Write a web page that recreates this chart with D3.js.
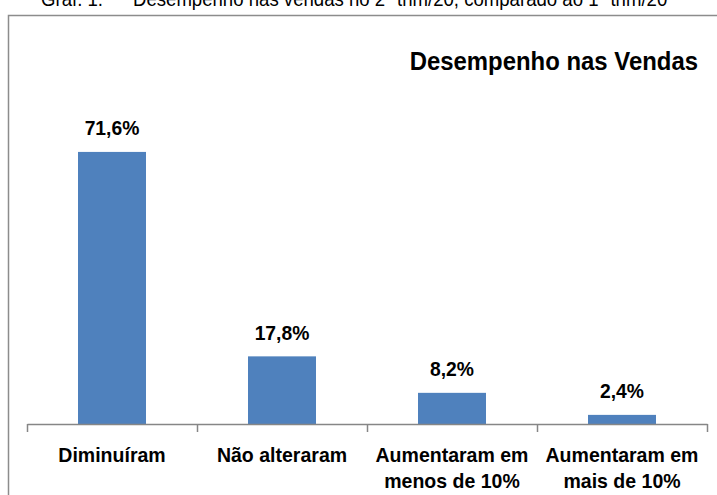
<!DOCTYPE html>
<html>
<head>
<meta charset="utf-8">
<script src="https://cdn.jsdelivr.net/npm/d3@7"></script>
<style>
  body { margin: 0; background: #fff; }
  text { font-family: "Liberation Sans", Arial, sans-serif; fill: #000; }
</style>
</head>
<body>
<div id="chart"></div>
<script>
(function() {
  var width = 717, height = 495;

  var categories = ["Diminuíram", "Não alteraram", "Aumentaram em menos de 10%", "Aumentaram em mais de 10%"];
  var categoryLines = [["Diminuíram"], ["Não alteraram"], ["Aumentaram em", "menos de 10%"], ["Aumentaram em", "mais de 10%"]];
  var values = [71.6, 17.8, 8.2, 2.4];

  var svg = d3.select("#chart")
    .append("svg")
    .attr("width", width)
    .attr("height", height);

  // the original uses a narrow font, so squeeze text horizontally
  function narrow(sel, x, y, k) {
    return sel.attr("transform", "translate(" + x + "," + y + ") scale(" + k + ",1)");
  }

  // caption (cut at top in the original)
  narrow(svg.append("text"), 41, 6, 0.93)
    .attr("font-size", 20)
    .text("Graf. 1.");
  narrow(svg.append("text"), 133, 6, 0.93)
    .attr("font-size", 20)
    .text("Desempenho nas vendas no 2º trim/20, comparado ao 1º trim/20");

  // frame
  svg.append("path")
    .attr("d", "M8.5,495V15.5H717")
    .attr("fill", "none")
    .attr("stroke", "#8c8c8c")
    .attr("stroke-width", 1.5);

  var baseline = 424;

  var xPositionScale = d3.scaleBand()
    .domain(categories)
    .range([27, 707])
    .paddingInner(0.6)
    .paddingOuter(0.3);

  var yPositionScale = d3.scaleLinear()
    .domain([0, 80])
    .range([baseline, baseline - 304]);

  narrow(svg.append("text"), 698, 70, 0.92)
    .attr("text-anchor", "end")
    .attr("font-size", 26)
    .attr("font-weight", "bold")
    .text("Desempenho nas Vendas");

  svg.selectAll(".bar")
    .data(values)
    .enter().append("rect")
    .attr("class", "bar")
    .attr("x", function(d, i) { return xPositionScale(categories[i]); })
    .attr("width", xPositionScale.bandwidth())
    .attr("y", function(d) { return yPositionScale(d); })
    .attr("height", function(d) { return yPositionScale(0) - yPositionScale(d); })
    .attr("fill", "#4f81bd");

  svg.selectAll(".value-label")
    .data(values)
    .enter().append("text")
    .attr("class", "value-label")
    .attr("transform", function(d, i) {
      var cx = xPositionScale(categories[i]) + xPositionScale.bandwidth() / 2;
      return "translate(" + cx + "," + (yPositionScale(d) - 16.5) + ") scale(0.92,1)";
    })
    .attr("text-anchor", "middle")
    .attr("font-size", 21)
    .attr("font-weight", "bold")
    .text(function(d) { return d.toFixed(1).replace(".", ",") + "%"; });

  // axis with ticks between categories
  var boundaryScale = d3.scaleLinear().domain([0, categories.length]).range([27, 707]);
  var xAxis = d3.axisBottom(boundaryScale)
    .tickValues(d3.range(categories.length + 1))
    .tickSize(8)
    .tickSizeOuter(0)
    .tickFormat("");
  var axisG = svg.append("g")
    .attr("class", "axis x-axis")
    .attr("transform", "translate(0," + baseline + ")")
    .call(xAxis);
  axisG.selectAll("path, line").attr("stroke", "#868686").attr("stroke-width", 1.5);

  svg.selectAll(".cat-label")
    .data(categoryLines)
    .enter().append("text")
    .attr("class", "cat-label")
    .attr("transform", function(lines, i) {
      var cx = xPositionScale(categories[i]) + xPositionScale.bandwidth() / 2;
      return "translate(" + cx + ",462) scale(0.93,1)";
    })
    .attr("text-anchor", "middle")
    .attr("font-size", 21)
    .attr("font-weight", "bold")
    .selectAll("tspan")
    .data(function(lines) { return lines; })
    .enter().append("tspan")
    .attr("x", 0)
    .attr("y", function(l, j) { return j * 26.5; })
    .text(function(l) { return l; });
})();
</script>
</body>
</html>
